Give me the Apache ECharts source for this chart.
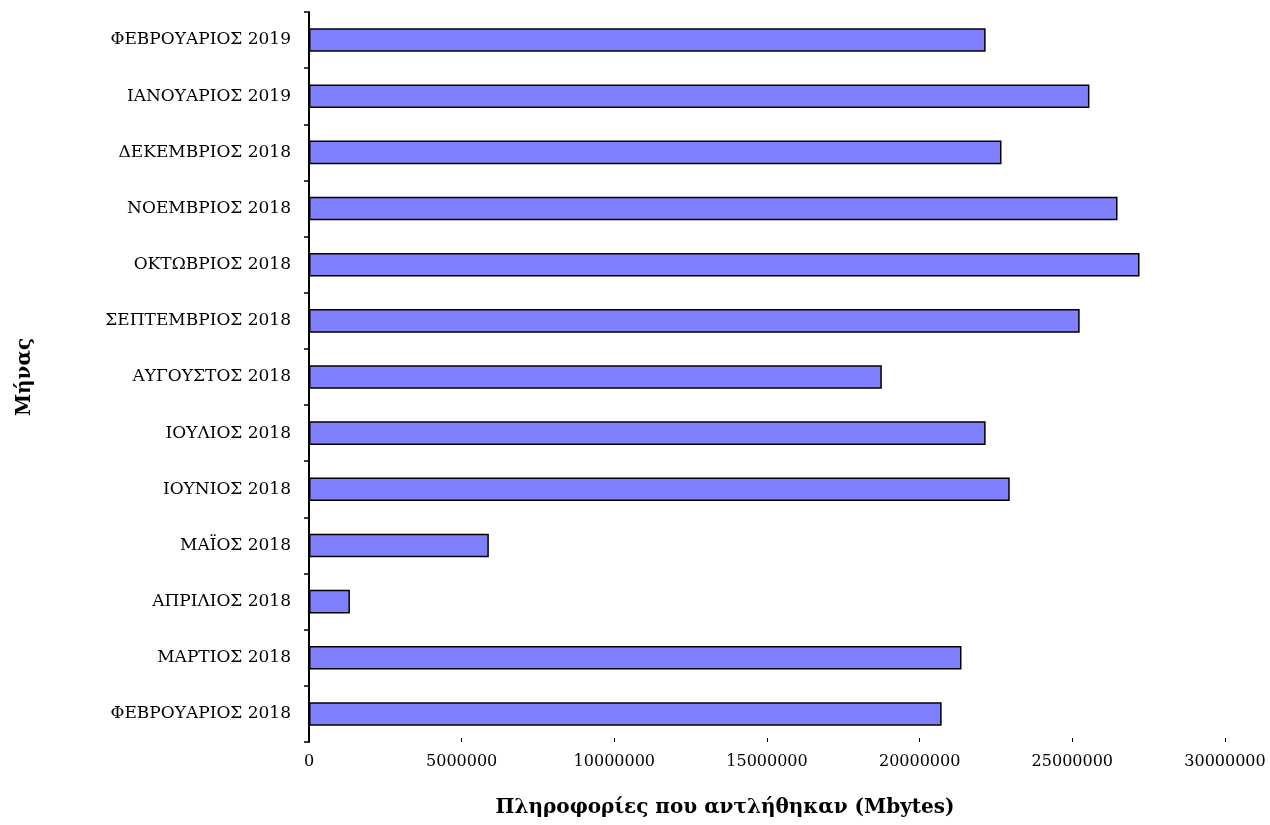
<!DOCTYPE html>
<html>
<head>
<meta charset="utf-8">
<script src="https://cdn.jsdelivr.net/npm/echarts@6/dist/echarts.min.js"></script>
<style>html,body{margin:0;padding:0;background:#fff}#c{width:1270px;height:825px}</style>
</head>
<body>
<div id="c"></div>
<script>
const categories = [
  'ΦΕΒΡΟΥΑΡΙΟΣ 2018','ΜΑΡΤΙΟΣ 2018','ΑΠΡΙΛΙΟΣ 2018','ΜΑΪΟΣ 2018','ΙΟΥΝΙΟΣ 2018','ΙΟΥΛΙΟΣ 2018',
  'ΑΥΓΟΥΣΤΟΣ 2018','ΣΕΠΤΕΜΒΡΙΟΣ 2018','ΟΚΤΩΒΡΙΟΣ 2018','ΝΟΕΜΒΡΙΟΣ 2018','ΔΕΚΕΜΒΡΙΟΣ 2018',
  'ΙΑΝΟΥΑΡΙΟΣ 2019','ΦΕΒΡΟΥΑΡΙΟΣ 2019'
];
const mbytes = [
  20720000, 21370000, 1340000, 5890000, 22950000, 22160000,
  18760000, 25240000, 27200000, 26480000, 22680000, 25560000, 22160000
];
const xTicks = [0, 5000000, 10000000, 15000000, 20000000, 25000000, 30000000];
const yTitle = 'Μήνας';
const xTitle = 'Πληροφορίες που αντλήθηκαν (Mbytes)';

const font = '"DejaVu Serif","Liberation Serif",serif';
const chart = echarts.init(document.getElementById('c'));
chart.setOption({
  animation: false,
  backgroundColor: '#fff',
  grid: { left: 309, right: 45, top: 12, bottom: 83, containLabel: false },
  xAxis: {
    type: 'value',
    min: xTicks[0],
    max: xTicks[xTicks.length - 1],
    interval: xTicks[1] - xTicks[0],
    axisLine: { show: false },
    axisTick: { show: true, inside: true, length: 4, lineStyle: { color: '#000', width: 1 } },
    splitLine: { show: false },
    axisLabel: { color: '#000', fontFamily: font, fontSize: 16, margin: 12, formatter: v => String(v) }
  },
  yAxis: {
    type: 'category',
    data: categories,
    name: yTitle,
    nameLocation: 'middle',
    nameGap: 274,
    nameTextStyle: { color: '#000', fontFamily: font, fontSize: 20, fontWeight: 'bold' },
    axisLine: { show: true, lineStyle: { color: '#000', width: 2 } },
    axisTick: { show: true, length: 5, lineStyle: { color: '#000', width: 1.5 } },
    axisLabel: { color: '#000', fontFamily: font, fontSize: 17, margin: 18 }
  },
  series: [{
    type: 'bar',
    data: mbytes,
    barWidth: '42%',
    itemStyle: { color: '#8080FF', borderColor: '#000', borderWidth: 1.5 }
  }],
  graphic: [{
    type: 'text',
    x: 725,
    y: 798,
    style: { text: xTitle, fill: '#000', font: 'bold 20px ' + font, textAlign: 'center' }
  }]
});
</script>
</body>
</html>
